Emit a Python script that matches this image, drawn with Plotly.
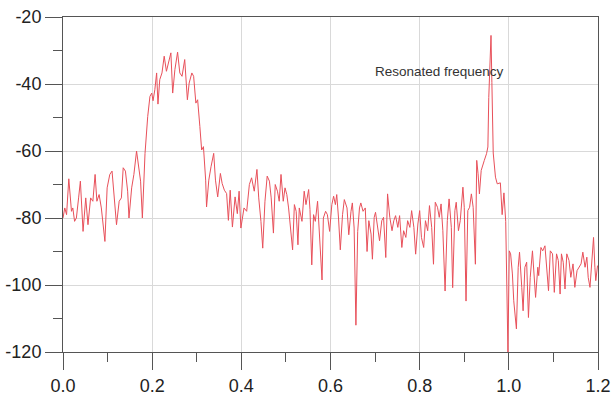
import plotly.graph_objects as go

freq = [
    0.000, 0.004, 0.008, 0.013, 0.019, 0.022, 0.026, 0.030, 0.035, 0.039,
    0.045, 0.051, 0.056, 0.062, 0.067, 0.072, 0.076, 0.081, 0.086, 0.094,
    0.099, 0.105, 0.110, 0.115, 0.120, 0.126, 0.131, 0.135, 0.140, 0.145,
    0.148, 0.154, 0.159, 0.165, 0.170, 0.174, 0.178,
    0.184, 0.190, 0.195, 0.199, 0.202, 0.206, 0.210, 0.213, 0.217, 0.222,
    0.227, 0.232, 0.236, 0.242, 0.246, 0.251, 0.257, 0.262, 0.267, 0.273,
    0.279, 0.283, 0.289, 0.293, 0.298, 0.302, 0.307, 0.311, 0.315, 0.320,
    0.322, 0.327, 0.332, 0.338, 0.342, 0.347, 0.353, 0.357, 0.362, 0.367,
    0.371, 0.375, 0.380, 0.386, 0.391, 0.395, 0.399,
    0.406, 0.412, 0.418, 0.423, 0.429, 0.435, 0.439, 0.444, 0.448, 0.453,
    0.458, 0.463, 0.467, 0.472, 0.476, 0.481, 0.485, 0.489, 0.494, 0.498,
    0.502, 0.506, 0.511, 0.515, 0.519, 0.523, 0.527, 0.530, 0.536, 0.541,
    0.545, 0.551, 0.554, 0.558, 0.562, 0.566, 0.571, 0.575, 0.581, 0.584,
    0.589, 0.593, 0.598, 0.603, 0.607, 0.611, 0.614, 0.618, 0.622, 0.627,
    0.631, 0.637, 0.641, 0.646, 0.649, 0.653, 0.657, 0.661, 0.665, 0.668,
    0.673, 0.678, 0.682,
    0.686, 0.691, 0.694, 0.698, 0.701, 0.706, 0.710, 0.715, 0.719, 0.724,
    0.728, 0.733, 0.738, 0.742, 0.746, 0.751, 0.755, 0.760, 0.764, 0.769,
    0.773, 0.778, 0.782, 0.787, 0.791, 0.796, 0.800, 0.804, 0.809, 0.813,
    0.818, 0.822, 0.827, 0.831, 0.835, 0.840, 0.844, 0.848, 0.852, 0.857,
    0.862, 0.866, 0.871, 0.874, 0.879, 0.882, 0.887, 0.891, 0.897, 0.900,
    0.904, 0.908, 0.912, 0.916, 0.920, 0.925, 0.928, 0.931, 0.934, 0.938,
    0.942, 0.945, 0.950, 0.953, 0.955, 0.958, 0.960, 0.962, 0.965, 0.970,
    0.974, 0.981, 0.985, 0.989, 0.993, 0.998,
    1.001, 1.004, 1.008, 1.011, 1.017, 1.021, 1.024, 1.029, 1.032, 1.036,
    1.040, 1.044, 1.048, 1.053, 1.056, 1.060, 1.065, 1.067, 1.072, 1.076,
    1.081, 1.085, 1.089, 1.093, 1.098, 1.102, 1.107, 1.111, 1.115, 1.118,
    1.122, 1.126, 1.130, 1.135, 1.139, 1.144, 1.148, 1.153, 1.157, 1.162,
    1.166, 1.171, 1.175, 1.178, 1.182, 1.186, 1.190, 1.193, 1.195, 1.199,
]

power_db = [
    -80.0, -77.0, -79.0, -68.3, -78.0, -77.0, -81.0, -80.0, -74.0, -69.0,
    -84.0, -74.0, -82.0, -74.0, -75.0, -67.0, -75.0, -73.0, -77.0, -87.0,
    -71.0, -67.0, -66.0, -74.0, -82.0, -75.0, -74.0, -65.0, -66.0, -72.0,
    -80.0, -71.0, -67.0, -60.0, -66.0, -69.0, -80.0,
    -60.7, -49.7, -43.7, -42.7, -45.0, -41.7, -36.7, -46.0, -38.7, -36.7,
    -31.7, -36.2, -34.2, -30.7, -42.7, -35.7, -30.5, -36.7, -37.7, -32.7,
    -44.7, -39.7, -36.7, -37.7, -45.7, -44.7, -52.7, -59.7, -58.7, -68.7,
    -76.7, -68.7, -64.7, -60.7, -68.7, -73.7, -66.7, -69.7, -71.7, -72.7,
    -80.7, -71.7, -82.7, -73.7, -78.7, -72.0, -83.0,
    -77.0, -78.0, -70.0, -68.0, -72.0, -65.5, -74.0, -81.0, -89.0, -75.0,
    -67.5, -69.0, -74.0, -84.5, -70.0, -72.0, -75.0, -67.0, -75.0, -71.0,
    -73.0, -77.0, -84.0, -89.5, -76.0, -78.0, -88.0, -77.0, -81.0, -72.0,
    -76.0, -71.5, -77.5, -94.0, -79.0, -81.0, -75.0, -84.0, -98.5, -80.0,
    -78.0, -79.0, -84.0, -76.0, -73.5, -76.0, -73.0, -80.0, -89.5, -79.0,
    -74.5, -77.0, -85.0, -78.0, -75.5, -83.0, -112.0, -84.0, -77.0, -75.5,
    -78.0, -77.0, -90.0,
    -80.8, -84.8, -92.3, -79.8, -78.3, -82.8, -86.8, -80.8, -79.8, -91.8,
    -72.8, -79.8, -83.8, -80.8, -79.3, -82.8, -79.3, -88.8, -83.8, -85.8,
    -80.8, -82.8, -77.8, -82.8, -90.8, -81.8, -77.8, -85.8, -88.8, -80.8,
    -83.8, -76.3, -82.8, -93.8, -75.3, -76.8, -79.8, -75.8, -83.8, -101.8,
    -80.8, -74.3, -82.8, -100.8, -77.8, -75.3, -83.8, -80.8, -70.8, -76.8,
    -104.8, -77.8, -76.8, -72.8, -76.8, -93.8, -62.8, -66.8, -72.8, -65.8,
    -63.8, -62.8, -60.8, -58.8, -44.0, -33.0, -25.5, -39.6, -60.6, -67.8,
    -69.8, -69.5, -79.0, -72.5, -81.0, -120.0,
    -89.8, -90.7, -96.7, -104.7, -113.1, -94.7, -90.2, -100.7, -107.7, -94.7,
    -93.2, -109.7, -97.7, -89.8, -95.7, -103.7, -94.7, -97.2, -88.8, -89.8,
    -88.3, -94.7, -101.7, -89.8, -90.7, -102.2, -90.7, -92.7, -102.7, -90.7,
    -93.2, -101.2, -90.7, -92.7, -97.7, -93.7, -100.7, -95.7, -94.7, -93.7,
    -90.2, -94.7, -91.7, -97.7, -100.7, -93.7, -85.8, -94.7, -98.7, -94.2,
]

x_ticks = [0.0, 0.2, 0.4, 0.6, 0.8, 1.0, 1.2]
x_tick_labels = ["0.0", "0.2", "0.4", "0.6", "0.8", "1.0", "1.2"]
y_ticks = [-120, -100, -80, -60, -40, -20]
y_tick_labels = ["-120", "-100", "-80", "-60", "-40", "-20"]

annotation_text = "Resonated frequency"
annotation_x = 0.844
annotation_y = -36.3

fig = go.Figure()
fig.add_trace(go.Scatter(
    x=freq, y=power_db, mode="lines",
    line=dict(color="#e8505a", width=1),
    showlegend=False, hoverinfo="skip",
))

axis_font = dict(family="Liberation Sans, Arial, sans-serif", size=18, color="#222222")

fig.update_xaxes(
    range=[0, 1.2], tickvals=x_ticks, ticktext=x_tick_labels,
    showgrid=True, gridcolor="#d9d9d9", gridwidth=1,
    showline=True, linecolor="#555555", linewidth=1, mirror=True,
    ticks="outside", ticklen=17, tickcolor="#555555", tickwidth=1,
    minor=dict(dtick=0.1, tick0=0, ticks="outside", ticklen=9,
               tickcolor="#555555", showgrid=False),
    tickfont=axis_font, zeroline=False, automargin=False,
)
fig.update_yaxes(
    range=[-120, -20], tickvals=y_ticks, ticktext=y_tick_labels,
    showgrid=True, gridcolor="#d9d9d9", gridwidth=1,
    showline=True, linecolor="#555555", linewidth=1, mirror=True,
    ticks="outside", ticklen=17, tickcolor="#555555", tickwidth=1,
    minor=dict(dtick=10, tick0=0, ticks="outside", ticklen=9,
               tickcolor="#555555", showgrid=False),
    tickfont=axis_font, zeroline=False, automargin=False,
)

fig.add_annotation(
    x=annotation_x, y=annotation_y, text=annotation_text, showarrow=False,
    xanchor="center", yanchor="middle",
    font=dict(family="Liberation Sans, Arial, sans-serif",
              size=13.5, color="#333333"),
)

fig.update_layout(
    width=612, height=398,
    margin=dict(l=63, r=14, t=17, b=46),
    paper_bgcolor="white", plot_bgcolor="white",
)

fig.write_html("out.html")
